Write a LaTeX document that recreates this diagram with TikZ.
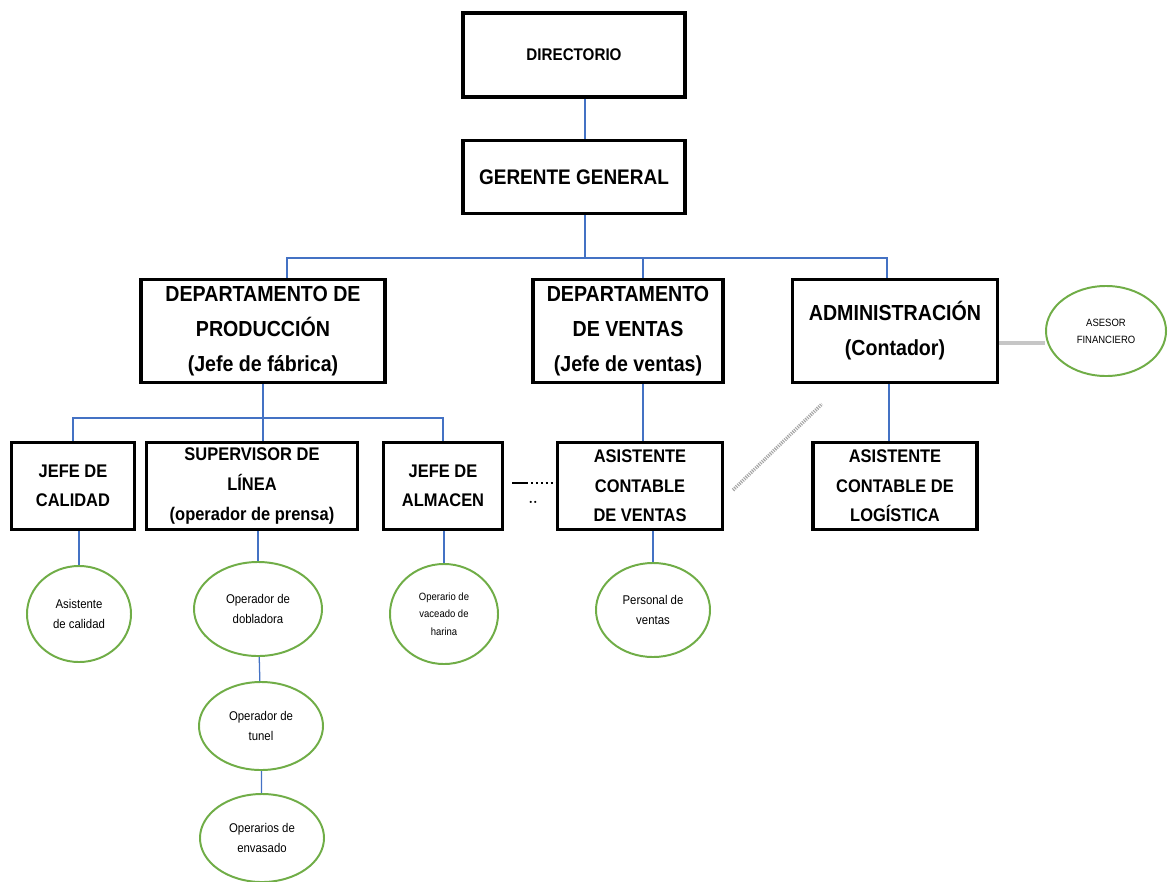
\documentclass[tikz,border=0pt]{standalone}
\usepackage{fontspec}
\newfontfamily\orgfont[FakeStretch=0.9]{Liberation Sans}
\definecolor{orgblue}{RGB}{68,114,196}
\definecolor{orggreen}{RGB}{112,173,71}
\usetikzlibrary{shapes,positioning,calc}

\begin{document}
\begin{tikzpicture}[x=0.025cm, y=-0.025cm,
    box/.style={rectangle, draw=black, line width=2.5pt, fill=white, align=center, inner sep=2pt},
    oval/.style={ellipse, draw=orggreen, line width=1.4pt, fill=white, align=center, inner sep=1pt,
        font={\orgfont\fontsize{9}{14}\selectfont}},
    conn/.style={draw=orgblue, line width=0.9pt},
    bigtxt/.style={font={\orgfont\bfseries\fontsize{15.5}{25}\selectfont}},
    smalltxt/.style={font={\orgfont\bfseries\fontsize{13}{21}\selectfont}}]
    \useasboundingbox (0,0) rectangle (1168,881);

    % top levels
    \node[box, minimum width=5.55cm, minimum height=2.1cm, font={\orgfont\bfseries\fontsize{12}{14}\selectfont}] (dir) at (574,55) {DIRECTORIO};
    \node[box, minimum width=5.55cm, minimum height=1.825cm, font={\orgfont\bfseries\fontsize{15}{18}\selectfont}] (ger) at (574,177) {GERENTE GENERAL};

    % departamentos
    \node[box, bigtxt, minimum width=6.1cm, minimum height=2.575cm] (prod) at (263,331) {DEPARTAMENTO DE\\PRODUCCIÓN\\(Jefe de fábrica)};
    \node[box, bigtxt, minimum width=4.75cm, minimum height=2.575cm] (ventas) at (628,331) {DEPARTAMENTO\\DE VENTAS\\(Jefe de ventas)};
    \node[box, bigtxt, minimum width=5.125cm, minimum height=2.575cm] (admin) at (895,331) {ADMINISTRACIÓN\\(Contador)};
    \node[oval, minimum width=3cm, minimum height=2.25cm, font={\orgfont\fontsize{7.5}{12}\selectfont}] (ase) at (1106,331) {ASESOR\\FINANCIERO};

    % jefaturas
    \node[box, smalltxt, minimum width=3.075cm, minimum height=2.175cm] (cal) at (73,486) {JEFE DE\\CALIDAD};
    \node[box, smalltxt, minimum width=5.275cm, minimum height=2.175cm] (sup) at (252,486) {SUPERVISOR DE\\LÍNEA\\(operador de prensa)};
    \node[box, smalltxt, minimum width=2.975cm, minimum height=2.175cm] (alm) at (443,486) {JEFE DE\\ALMACEN};
    \node[box, smalltxt, minimum width=4.125cm, minimum height=2.175cm] (asv) at (640,486) {ASISTENTE\\CONTABLE\\DE VENTAS};
    \node[box, smalltxt, minimum width=4.1cm, minimum height=2.175cm] (asl) at (895,486) {ASISTENTE\\CONTABLE DE\\LOGÍSTICA};

    % personal
    \node[oval, minimum width=2.6cm, minimum height=2.4cm] (calA) at (79,614) {Asistente\\de calidad};
    \node[oval, minimum width=3.2cm, minimum height=2.35cm] (dob) at (258,609) {Operador de\\dobladora};
    \node[oval, minimum width=3.1cm, minimum height=2.2cm] (tun) at (261,726) {Operador de\\tunel};
    \node[oval, minimum width=3.1cm, minimum height=2.2cm] (env) at (262,838) {Operarios de\\envasado};
    \node[oval, minimum width=2.7cm, minimum height=2.5cm, font={\orgfont\fontsize{7.5}{12.5}\selectfont}] (har) at (444,614) {Operario de\\vaceado de\\harina};
    \node[oval, minimum width=2.85cm, minimum height=2.35cm] (pv) at (653,610) {Personal de\\ventas};

    \coordinate (bus1) at (0,258);
    \coordinate (bus2) at (0,418);

    % lines
    \draw[conn] ([xshift=0.275cm]dir.south) -- ([xshift=0.275cm]ger.north);
    \draw[conn] ([xshift=0.275cm]ger.south) -- ([xshift=0.275cm]ger.south |- bus1);
    \draw[conn] ([xshift=0.6cm]prod.north) -- ([xshift=0.6cm]prod.north |- bus1)
        -- ([xshift=-0.2cm]admin.north |- bus1) -- ([xshift=-0.2cm]admin.north);
    \draw[conn] ([xshift=0.375cm]ventas.north |- bus1) -- ([xshift=0.375cm]ventas.north);
    \draw[conn] (prod.south) -- (prod.south |- sup.north);
    \draw[conn] (cal.north) -- (cal.north |- bus2) -- (alm.north |- bus2) -- (alm.north);
    \draw[conn] ([xshift=0.375cm]ventas.south) -- ([xshift=0.375cm]ventas.south |- asv.north);
    \draw[conn] ([xshift=-0.15cm]admin.south) -- ([xshift=-0.15cm]admin.south |- asl.north);
    \draw[conn] (calA.north |- cal.south) -- (calA.north);
    \draw[conn] (dob.north |- sup.south) -- (dob.north);
    \draw[conn] (dob) -- (tun);
    \draw[conn] (tun) -- (env);
    \draw[conn] (har.north |- alm.south) -- (har.north);
    \draw[conn] (pv.north |- asv.south) -- (pv.north);
    \draw[gray!45, line width=3pt] ([yshift=-0.3cm]admin.east) -- ([yshift=-0.3cm]admin.east -| ase.west);

    % sueltos
    \coordinate (dotA) at (512,483);
    \coordinate (dotC) at (526,483);
    \draw[line width=1.5pt] (dotA) -- (dotC);
    \draw[line width=1.5pt, dotted] (dotC) -- (asv.west |- dotC);
    \node[font=\bfseries] (dotB) at (533,502) {..};
    \coordinate (hatchA) at (733,490);
    \coordinate (hatchB) at (822,404);
    \draw[gray!70, line width=2.5pt, dash pattern=on 0.8pt off 0.8pt] (hatchA) -- (hatchB);
\end{tikzpicture}
\end{document}
